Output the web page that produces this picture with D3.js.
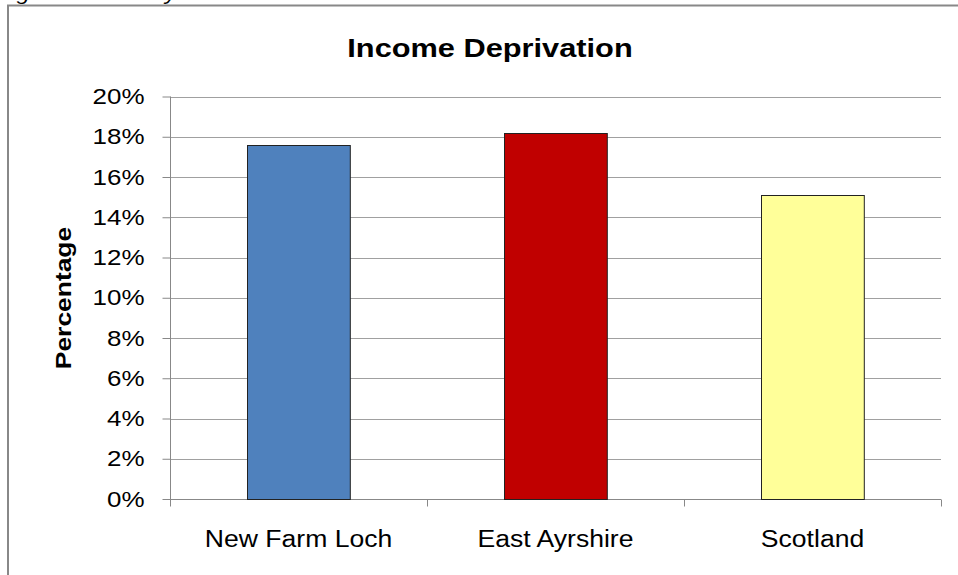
<!DOCTYPE html>
<html>
<head>
<meta charset="utf-8">
<script src="https://cdn.jsdelivr.net/npm/d3@7"></script>
<style>
  html, body { margin: 0; padding: 0; background: #fff; }
  svg { display: block; }
  text { font-family: "Liberation Sans", Arial, sans-serif; }
</style>
</head>
<body>
<svg id="chart" width="958" height="575"></svg>
<script>
const categories = ["New Farm Loch", "East Ayrshire", "Scotland"];
const values = [0.176, 0.182, 0.151];
const barColors = ["#4F81BD", "#C00000", "#FFFF99"];
const yTicks = [0, 0.02, 0.04, 0.06, 0.08, 0.10, 0.12, 0.14, 0.16, 0.18, 0.20];
const titleText = "Income Deprivation";
const yLabelText = "Percentage";
const captionText = "Figure 8: Poverty";

const svg = d3.select("#chart");
const W = 958, H = 575;
const plot = { left: 170, right: 941, top: 96.5, bottom: 499 };
const STRETCH = 1.18; // reference text is horizontally widened

function widen(sel, k) {
  sel.each(function () {
    const len = this.getComputedTextLength();
    d3.select(this).attr("textLength", len * k).attr("lengthAdjust", "spacingAndGlyphs");
  });
}

// caption above frame (cut off at the top edge)
svg.append("text")
  .attr("x", -3).attr("y", 0)
  .attr("font-size", 20).attr("font-style", "italic")
  .attr("fill", "#000")
  .text(captionText)
  .call(widen, STRETCH);

// frame
svg.append("path")
  .attr("d", `M8,${H + 5} L8,5.5 L${W + 5},5.5`)
  .attr("fill", "none").attr("stroke", "#888").attr("stroke-width", 2);

const x = d3.scaleBand().domain(categories)
  .range([plot.left, plot.right]).paddingInner(0.6).paddingOuter(0.3);
const y = d3.scaleLinear().domain([0, 0.2]).range([plot.bottom, plot.top]);

// gridlines
svg.append("g").selectAll("line").data(yTicks).join("line")
  .attr("x1", plot.left).attr("x2", plot.right)
  .attr("y1", d => Math.round(y(d)) + 0.5).attr("y2", d => Math.round(y(d)) + 0.5)
  .attr("stroke", "#a0a0a0").attr("stroke-width", 1);

// y axis
const yAxis = d3.axisLeft(y).tickValues(yTicks).tickSize(8).tickPadding(18)
  .tickFormat(d3.format(".0%"));
const gy = svg.append("g").attr("transform", `translate(${plot.left + 0.5},0)`).call(yAxis);
gy.select(".domain").attr("stroke", "#888").attr("d", `M0,${plot.top}V${plot.bottom + 0.5}`);
gy.selectAll(".tick line").attr("stroke", "#888");
gy.selectAll(".tick text").attr("font-size", 22).attr("fill", "#000")
  .attr("font-family", "'Liberation Sans', Arial, sans-serif")
  .call(widen, STRETCH);

// x axis
const xAxis = d3.axisBottom(x).tickSize(0).tickPadding(31);
const gx = svg.append("g").attr("transform", `translate(0,${Math.round(plot.bottom) + 0.5})`).call(xAxis);
gx.select(".domain").attr("stroke", "#888").attr("d", `M${plot.left},0H${plot.right}`);
gx.selectAll(".tick text").attr("font-size", 23.5).attr("fill", "#000")
  .attr("font-family", "'Liberation Sans', Arial, sans-serif")
  .call(widen, 1.13);
// category separators
const seps = d3.range(categories.length + 1).map(i => plot.left + i * (plot.right - plot.left) / categories.length);
gx.append("g").selectAll("line").data(seps).join("line")
  .attr("x1", d => Math.round(d) + 0.5).attr("x2", d => Math.round(d) + 0.5)
  .attr("y1", 0).attr("y2", 7).attr("stroke", "#888");

// bars
svg.append("g").selectAll("rect").data(values).join("rect")
  .attr("x", (d, i) => Math.round(x(categories[i])) + 0.5)
  .attr("y", d => Math.round(y(d)) + 0.5)
  .attr("width", x.bandwidth())
  .attr("height", d => Math.round(plot.bottom) - Math.round(y(d)))
  .attr("fill", (d, i) => barColors[i])
  .attr("stroke", "#222").attr("stroke-width", 1);

// title
svg.append("text")
  .attr("x", 490).attr("y", 57)
  .attr("text-anchor", "middle")
  .attr("font-size", 25).attr("font-weight", "bold")
  .text(titleText)
  .call(widen, 1.23);

// y label
svg.append("text")
  .attr("transform", `translate(71,298) rotate(-90)`)
  .attr("text-anchor", "middle")
  .attr("font-size", 22).attr("font-weight", "bold")
  .text(yLabelText)
  .call(widen, 1.2);
</script>
</body>
</html>
